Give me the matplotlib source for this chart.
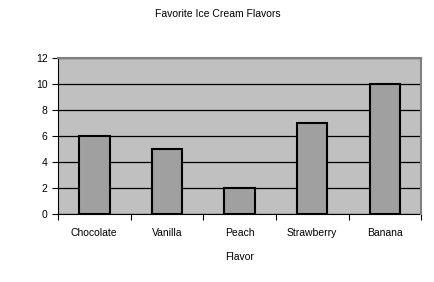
import matplotlib
matplotlib.use("Agg")
import matplotlib.pyplot as plt
import numpy as np

categories = ["Chocolate", "Vanilla", "Peach", "Strawberry", "Banana"]
values = [6, 5, 2, 7, 10]
yticks = [0, 2, 4, 6, 8, 10, 12]

plt.rcParams['font.family'] = ['Liberation Sans', 'DejaVu Sans']
fig = plt.figure(figsize=(4.35, 2.82), dpi=100)
ax = fig.add_axes([0.1333, 0.241, 0.835, 0.553])
ax.set_facecolor('#c0c0c0')
x = np.arange(len(categories))
ax.set_axisbelow(True)
ax.yaxis.grid(True, color='black', linewidth=0.9)
ax.bar(x, values, width=0.42, color='#a0a0a0', edgecolor='black', linewidth=1.5, zorder=3)
ax.set_xlim(-0.5, len(categories) - 0.5)
ax.set_ylim(0, 12)
ax.set_yticks(yticks)
ax.set_xticks(np.arange(len(categories) + 1) - 0.5, minor=False)
ax.set_xticklabels([])
ax.set_xticks(x, minor=True)
ax.set_xticklabels(categories, minor=True)
ax.tick_params(axis='x', which='minor', length=0, pad=10, labelsize=7.5)
ax.tick_params(axis='x', which='major', length=4, direction='out', width=0.8)
ax.tick_params(axis='y', length=4, labelsize=7.5, width=0.8)
for s in ['top', 'right']:
    ax.spines[s].set_color('#808080')
    ax.spines[s].set_linewidth(1.5)
    ax.spines[s].set_zorder(4)
ax.spines['left'].set_linewidth(0.8)
ax.spines['bottom'].set_linewidth(0.8)
ax.set_xlabel('Flavor', fontsize=7.5, labelpad=10)
fig.text(0.5, 1 - 14/282, 'Favorite Ice Cream Flavors', ha='center', va='center', fontsize=7.5)
fig.savefig('out.png', dpi=100, facecolor='white')
